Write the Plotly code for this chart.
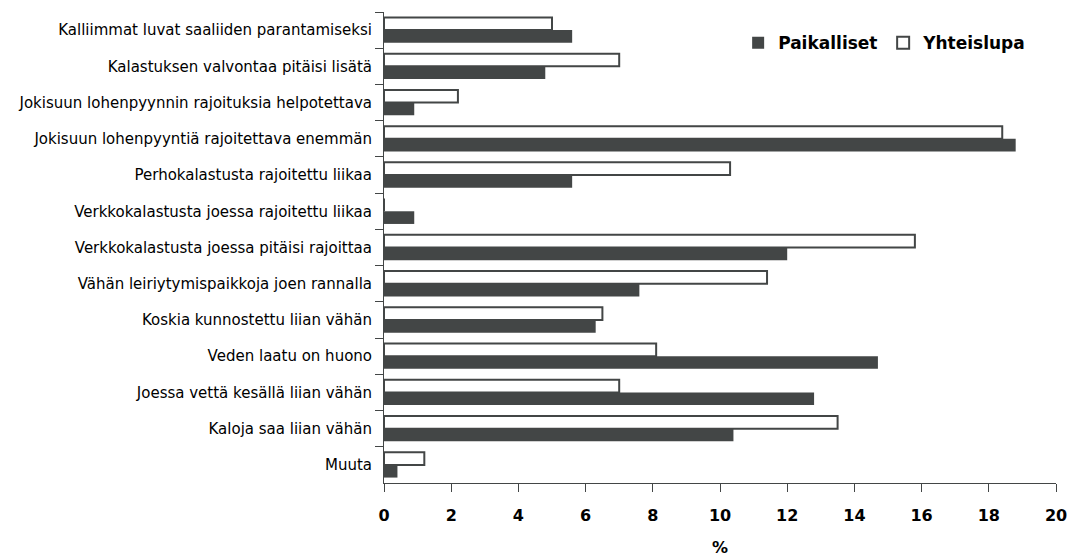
import plotly.graph_objects as go

categories = [
    "Kalliimmat luvat saaliiden parantamiseksi",
    "Kalastuksen valvontaa pitäisi lisätä",
    "Jokisuun lohenpyynnin rajoituksia helpotettava",
    "Jokisuun lohenpyyntiä rajoitettava enemmän",
    "Perhokalastusta rajoitettu liikaa",
    "Verkkokalastusta joessa rajoitettu liikaa",
    "Verkkokalastusta joessa pitäisi rajoittaa",
    "Vähän leiriytymispaikkoja joen rannalla",
    "Koskia kunnostettu liian vähän",
    "Veden laatu on huono",
    "Joessa vettä kesällä liian vähän",
    "Kaloja saa liian vähän",
    "Muuta",
]
paikalliset = [5.6, 4.8, 0.9, 18.8, 5.6, 0.9, 12.0, 7.6, 6.3, 14.7, 12.8, 10.4, 0.4]
yhteislupa = [5.0, 7.0, 2.2, 18.4, 10.3, 0.0, 15.8, 11.4, 6.5, 8.1, 7.0, 13.5, 1.2]
x_ticks = [0, 2, 4, 6, 8, 10, 12, 14, 16, 18, 20]

dark = "#434646"
font_family = "DejaVu Sans, Liberation Sans, Arial, sans-serif"

fig = go.Figure()
fig.add_trace(go.Bar(
    y=categories, x=yhteislupa, orientation="h", name="Yhteislupa",
    marker=dict(color="white", line=dict(color=dark, width=2)),
    legendrank=2,
))
fig.add_trace(go.Bar(
    y=categories, x=paikalliset, orientation="h", name="Paikalliset",
    marker=dict(color=dark, line=dict(color=dark, width=0)),
    legendrank=1,
))

# The page body has an 8px margin, so the figure is sized to fit inside it.
fig.update_layout(
    width=1070, height=549,
    margin=dict(l=376, r=22, t=4, b=74, pad=0),
    paper_bgcolor="white", plot_bgcolor="white",
    barmode="group", bargap=0.3, bargroupgap=0,
    font=dict(family=font_family, color="black"),
    showlegend=True,
    legend=dict(
        orientation="h", x=0.527, y=0.934, xanchor="left", yanchor="middle",
        font=dict(size=17, color="black", weight="bold"), bgcolor="rgba(0,0,0,0)",
        itemwidth=30, traceorder="normal", entrywidth=100,
    ),
    xaxis=dict(
        range=[0, 20], tickvals=x_ticks, ticks="outside", ticklen=8,
        tickcolor=dark, showline=True, linecolor=dark, linewidth=1,
        showgrid=False, zeroline=False, automargin=False,
        ticklabelstandoff=10,
        tickfont=dict(size=16, color="black", weight="bold"),
        title=dict(text="%", font=dict(size=16, color="black", weight="bold"), standoff=18),
    ),
    yaxis=dict(
        autorange="reversed", type="category", tickson="boundaries",
        ticks="outside", ticklen=8, tickcolor=dark, automargin=False,
        ticklabelstandoff=8,
        showline=True, linecolor=dark, linewidth=1, showgrid=False,
        tickfont=dict(size=15, color="black"),
    ),
)

fig.write_html("out.html")
